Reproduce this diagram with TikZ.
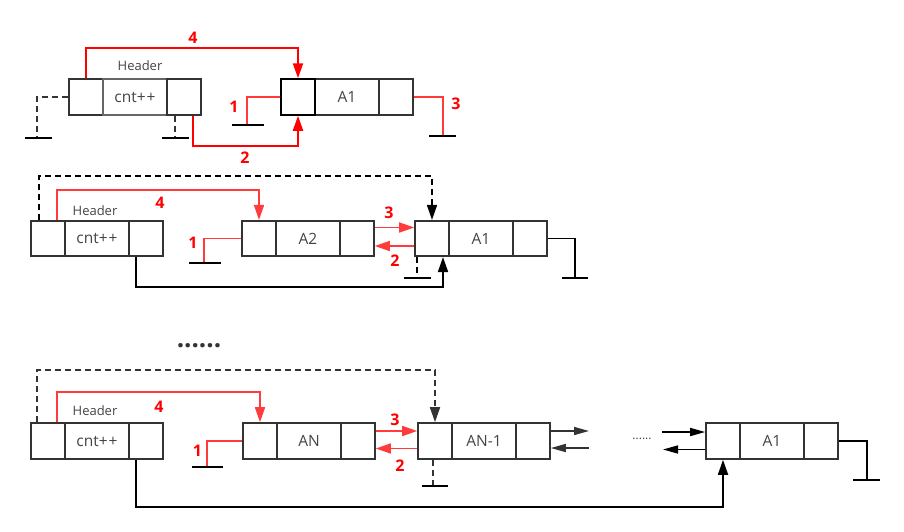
\documentclass[tikz,border=0pt]{standalone}
\usepackage{fontspec}
\setmainfont{Open Sans}
\usetikzlibrary{arrows.meta,calc}
\definecolor{bx}{HTML}{333333}
\definecolor{tx}{HTML}{444444}
\definecolor{rA}{HTML}{FF0000}
\definecolor{rB}{HTML}{FF3B3B}
\begin{document}
\begin{tikzpicture}[x=1pt,y=-1pt,
  cell/.style={draw=bx,line width=1.6pt,minimum height=35.5pt,inner sep=0pt,
               font=\fontsize{15.5}{17}\selectfont,text=tx},
  nw/.style={cell,minimum width=34pt},
  ww/.style={cell,minimum width=64pt},
  hdr/.style={font=\fontsize{13}{15}\selectfont,text=tx},
  num/.style={font=\bfseries\fontsize{16}{18}\selectfont,text=rA},
  tip/.style={-{Triangle[length=15pt,width=10pt]}},
  smalltip/.style={-{Triangle[length=15pt,width=8pt]}},
  redthick/.style={draw=rA,line width=2pt},
  redthin/.style={draw=rB,line width=1.6pt},
  blk/.style={draw=black,line width=1.8pt},
  dsh/.style={draw=bx,line width=1.6pt,dash pattern=on 6pt off 4pt},
  dshk/.style={draw=black,line width=1.6pt,dash pattern=on 6pt off 4pt},
  gbar/.style={draw=black,line width=1.8pt},
]
\useasboundingbox (0,0) rectangle (904,531);

% ---------- top row ----------
\node[nw] (h1l) at (86,97) {};
\node[ww,draw=bx!75] (h1m) at (135,97) {cnt+\kern1pt+};
\node[nw] (h1r) at (184,97) {};
\node[hdr] (h1t) at (140,66) {Header};
\node[ww] (a1m) at (347,97) {A1};
\node[nw] (a1r) at (396,97) {};
\node[nw,draw=black,line width=2pt] (a1l) at (298,97) {};

\coordinate (g1) at (247,125);
\coordinate (g3) at (443,136);
\coordinate (g0) at (37,138);
\coordinate (g0b) at (175,138);

\draw[redthick,tip] (h1l.north) -- ++(0,-30) -| (a1l.north);
\draw[redthick,tip] ($(h1r.south)+(9,0)$) -- ++(0,30) -| (a1l.south);
\draw[redthin] (a1l.west) -| (g1);
\draw[gbar] ($(g1)+(-15,0)$) -- ++(32,0);
\draw[redthin] (a1r.east) -| (g3);
\draw[gbar] ($(g3)+(-14,0)$) -- ++(27,0);
\draw[dsh] (h1l.west) -| (g0);
\draw[gbar] ($(g0)+(-12,0)$) -- ++(27,0);
\draw[dsh] ($(h1r.south)+(-9,0)$) -- (g0b);
\draw[gbar] ($(g0b)+(-13,0)$) -- ++(27,0);

\node[num] (n4a) at (193,38) {4};
\node[num] (n2a) at (245,158) {2};
\node[num] (n1a) at (234,107) {1};
\node[num] (n3a) at (456,104) {3};

% ---------- middle row ----------
\node[nw] (h2l) at (48,238.5) {};
\node[ww] (h2m) at (97,238.5) {cnt+\kern1pt+};
\node[nw] (h2r) at (146,238.5) {};
\node[hdr] (h2t) at (95,210.5) {Header};
\node[nw] (a2l) at (259,238.5) {};
\node[ww] (a2m) at (308,238.5) {A2};
\node[nw] (a2r) at (357,238.5) {};
\node[nw] (m1l) at (432,238.5) {};
\node[ww] (m1m) at (481,238.5) {A1};
\node[nw] (m1r) at (530,238.5) {};

\coordinate (g21) at (204,263);
\coordinate (gm) at (417,278);
\coordinate (gmr) at (575,278);

\draw[dshk,tip] ($(h2l.north)+(-9,0)$) -- ++(0,-44) -| (m1l.north);
\draw[redthin,tip] ($(h2l.north)+(9,0)$) -- ++(0,-30) -| (a2l.north);
\draw[redthin] (a2l.west) -| (g21);
\draw[gbar] ($(g21)+(-15,0)$) -- ++(32,0);
\draw[redthin,tip] ($(a2r.east)+(0,-11)$) -- ($(m1l.west)+(0,-11)$);
\draw[redthin,tip] ($(m1l.west)+(0,7.5)$) -- ($(a2r.east)+(0,7.5)$);
\draw[blk,tip] ($(h2r.south)+(-10,0)$) -- ++(0,30) -| ($(m1l.south)+(11,0)$);
\draw[dshk] ($(m1l.south)+(-15,0)$) -- (gm);
\draw[gbar] ($(gm)+(-13,0)$) -- ++(27,0);
\draw[blk] (m1r.east) -| (gmr);
\draw[gbar] ($(gmr)+(-13,0)$) -- ++(26,0);

\node[num] (n4b) at (160,203) {4};
\node[num] (n1b) at (193,242.5) {1};
\node[num] (n3b) at (389,212.5) {3};
\node[num] (n2b) at (395,260.5) {2};

% ---------- ellipsis ----------
\node[font=\bfseries\fontsize{26}{28}\selectfont,text=bx] (dots1) at (199,346) {......};

% ---------- bottom row ----------
\node[nw,minimum height=36pt] (h3l) at (48,441) {};
\node[ww,minimum height=36pt] (h3m) at (97,441) {cnt+\kern1pt+};
\node[nw,minimum height=36pt] (h3r) at (146,441) {};
\node[hdr] (h3t) at (95,410.5) {Header};
\node[nw,minimum height=36pt] (anl) at (260,441) {};
\node[ww,minimum height=36pt] (anm) at (309,441) {AN};
\node[nw,minimum height=36pt] (anr) at (358,441) {};
\node[nw,minimum height=36pt] (n1l) at (435,441) {};
\node[ww,minimum height=36pt] (n1m) at (484,441) {AN-1};
\node[nw,minimum height=36pt] (n1r) at (533,441) {};
\node[nw,minimum height=36pt] (b1l) at (723,441) {};
\node[ww,minimum height=36pt] (b1m) at (772,441) {A1};
\node[nw,minimum height=36pt] (b1r) at (821,441) {};

\coordinate (g31) at (207,467);
\coordinate (gn) at (433,486);
\coordinate (c1) at (589,431);
\coordinate (c2) at (589,448);
\coordinate (c3) at (662,432);
\coordinate (c4) at (663,449.5);
\coordinate (gb) at (867,480);

\draw[dsh,tip] ($(h3l.north)+(-11,0)$) -- ++(0,-52) -| (n1l.north);
\draw[redthin,tip] ($(h3l.north)+(9,0)$) -- ++(0,-30) -| (anl.north);
\draw[redthin] (anl.west) -| (g31);
\draw[gbar] ($(g31)+(-15,0)$) -- ++(31,0);
\draw[redthin,tip] ($(anr.east)+(0,-10)$) -- ($(n1l.west)+(0,-10)$);
\draw[redthin,tip] ($(n1l.west)+(0,7.5)$) -- ($(anr.east)+(0,7.5)$);
\draw[dsh] ($(n1l.south)+(-2,0)$) -- (gn);
\draw[gbar] ($(gn)+(-11,0)$) -- ++(26,0);
\draw[blk,tip] ($(h3r.south)+(-10,0)$) -- ++(0,47) -| (b1l.south);
\draw[draw=bx,line width=1.6pt,smalltip] ($(n1r.east)+(0,-10)$) -- (c1);
\draw[draw=bx,line width=1.6pt,smalltip] (c2) -- ($(n1r.east)+(0,7)$);
\draw[draw=black,line width=1.6pt,smalltip] (c3) -- ($(b1l.west)+(0,-9)$);
\draw[draw=black,line width=1.6pt,smalltip] ($(b1l.west)+(0,8.5)$) -- (c4);
\draw[blk] (b1r.east) -| (gb);
\draw[gbar] ($(gb)+(-14,0)$) -- ++(27,0);

\node[font=\fontsize{12}{13}\selectfont,text=tx] (dots2) at (642,439) {......};

\node[num] (n4c) at (159,406.5) {4};
\node[num] (n1c) at (197.5,450.5) {1};
\node[num] (n3c) at (395,420) {3};
\node[num] (n2c) at (400,466) {2};
\end{tikzpicture}
\end{document}
